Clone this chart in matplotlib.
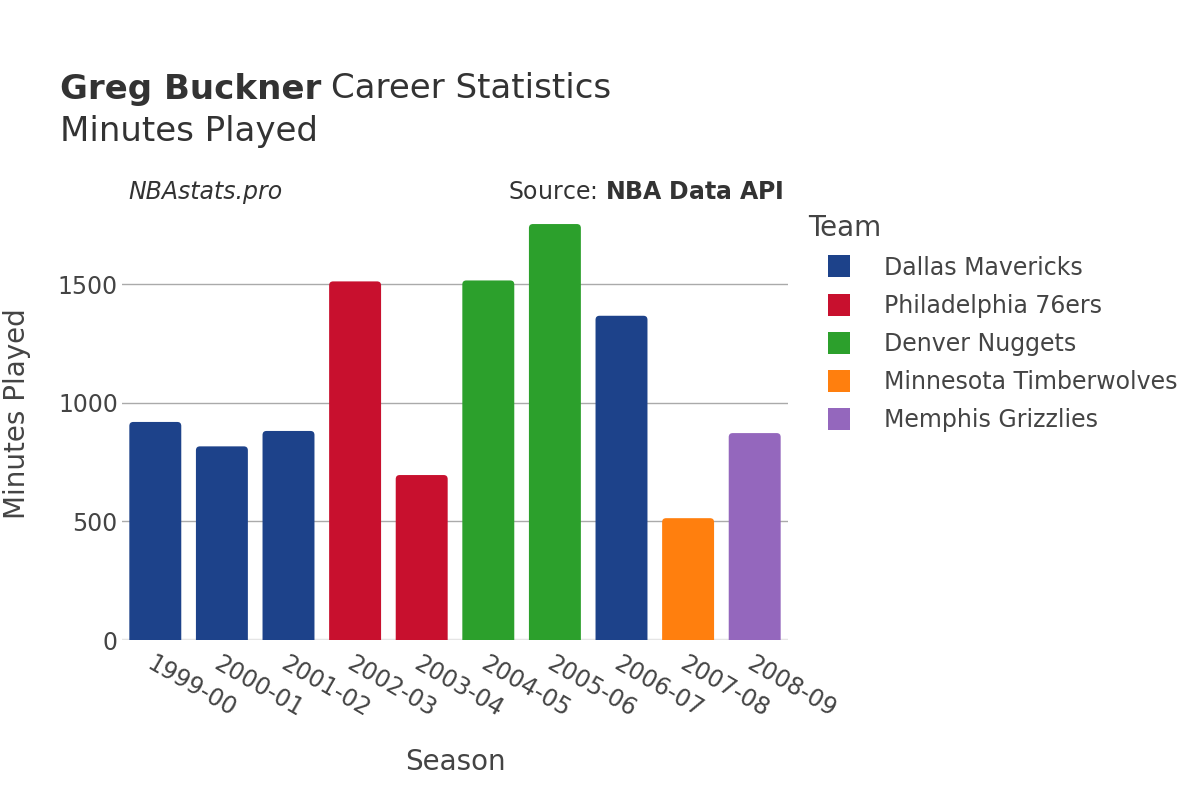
import numpy as np
import matplotlib.pyplot as plt
from matplotlib.lines import Line2D
from matplotlib.patches import FancyBboxPatch

seasons = ['1999-00', '2000-01', '2001-02', '2002-03', '2003-04',
           '2004-05', '2005-06', '2006-07', '2007-08', '2008-09']
minutes = [920, 817, 882, 1513, 696, 1517, 1755, 1368, 514, 873]
teams = ['Dallas Mavericks', 'Dallas Mavericks', 'Dallas Mavericks',
         'Philadelphia 76ers', 'Philadelphia 76ers', 'Denver Nuggets',
         'Denver Nuggets', 'Dallas Mavericks', 'Minnesota Timberwolves',
         'Memphis Grizzlies']
team_order = ['Dallas Mavericks', 'Philadelphia 76ers', 'Denver Nuggets',
              'Minnesota Timberwolves', 'Memphis Grizzlies']
team_colors = {'Dallas Mavericks': '#1D428A',
               'Philadelphia 76ers': '#C8102E',
               'Denver Nuggets': '#2CA02C',
               'Minnesota Timberwolves': '#FF7F0E',
               'Memphis Grizzlies': '#9467BD'}

txt = '#444444'
fig = plt.figure(figsize=(12, 8), dpi=100)
ax = fig.add_axes([122/1200, 0.2, 666/1200, 438/800])

ymax = 1848
ax.set_xlim(-0.5, len(seasons) - 0.5)
ax.set_ylim(0, ymax)

# rounded bars (bottom pushed below 0 so only top corners show)
bw = 0.78
rx = 0.06
asp = (4 / (438 / ymax)) / rx
x = np.arange(len(seasons))
for xi, v, t in zip(x, minutes, teams):
    p = FancyBboxPatch((xi - bw/2, -30), bw, v + 30,
                       boxstyle='round,pad=0,rounding_size=%f' % rx,
                       mutation_aspect=asp, facecolor=team_colors[t],
                       edgecolor='none', zorder=3)
    ax.add_patch(p)

ax.set_yticks([0, 500, 1000, 1500])
ax.grid(axis='y', color='#aaaaaa', linewidth=1, zorder=0)
ax.axhline(0, color='#e5e5e5', linewidth=2.5, zorder=2)
for s in ax.spines.values():
    s.set_visible(False)
ax.tick_params(axis='y', length=0, labelsize=17, labelcolor=txt, pad=3)
ax.set_xticks(x)
ax.set_xticklabels(seasons, rotation=-30, ha='left', va='top',
                   rotation_mode='anchor', fontsize=17, color=txt)
ax.tick_params(axis='x', length=0, pad=8)

ax.set_xlabel('Season', fontsize=20, color=txt, labelpad=19)
fig.text(17/1200, 1 - 414/800, 'Minutes Played', fontsize=20, color=txt,
         rotation=90, ha='center', va='center')

fig.canvas.draw()
r = fig.canvas.get_renderer()
t1 = fig.text(60/1200, 1 - 89/800, 'Greg Buckner', fontsize=24.5,
              fontweight='bold', color='#333333', va='center')
bb = t1.get_window_extent(renderer=r)
fig.text((bb.x1 + 10) / 1200, 1 - 89/800, 'Career Statistics', fontsize=24.5,
         color='#333333', va='center')
fig.text(60/1200, 1 - 132/800, 'Minutes Played', fontsize=24.5,
         color='#333333', va='center')
fig.text(128/1200, 1 - 192/800, 'NBAstats.pro', fontsize=17, style='italic',
         color='#333333', va='center')
fig.text(784/1200, 1 - 192/800, 'Source: $\\bf{NBA\\ Data\\ API}$', fontsize=17,
         color='#333333', va='center', ha='right')

handles = [Line2D([0], [0], marker='s', linestyle='', markersize=16,
                  markerfacecolor=team_colors[t], markeredgewidth=0)
           for t in team_order]
leg = fig.legend(handles, team_order, loc='upper left',
                 bbox_to_anchor=(792/1200, 1 - 197/800), frameon=False,
                 fontsize=17, title='Team', title_fontsize=20,
                 labelspacing=0.6, handletextpad=0.6, borderpad=0.2,
                 handlelength=2.6)
leg._legend_box.align = 'left'
for t in leg.get_texts():
    t.set_color(txt)
leg.get_title().set_color(txt)

fig.savefig('out.png', dpi=100)
